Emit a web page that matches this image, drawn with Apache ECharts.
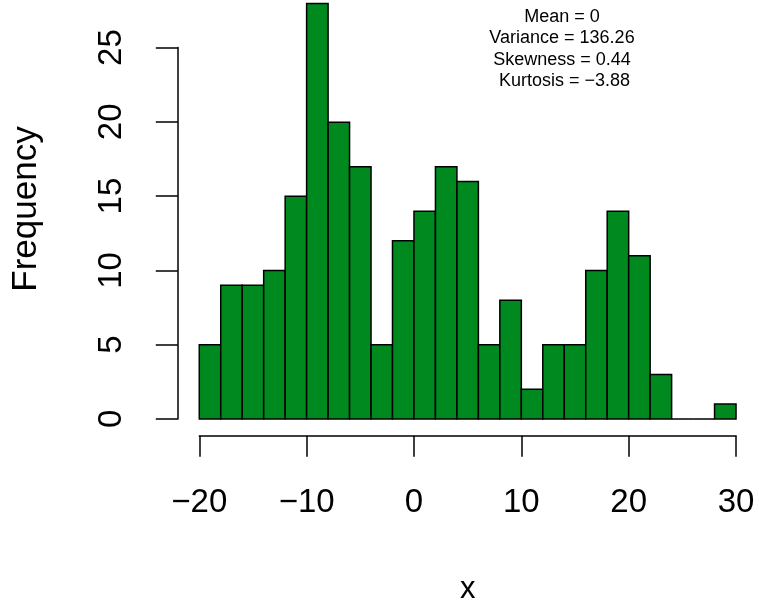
<!DOCTYPE html>
<html>
<head>
<meta charset="utf-8">
<script src="https://cdn.jsdelivr.net/npm/echarts@6/dist/echarts.min.js"></script>
<style>html,body{margin:0;padding:0;background:#fff}#c{width:759px;height:608px}</style>
</head>
<body>
<div id="c"></div>
<script>
// Histogram data (bin width 2)
const binStarts = [-20,-18,-16,-14,-12,-10,-8,-6,-4,-2,0,2,4,6,8,10,12,14,16,18,20,22,24,26,28];
const binEnds   = [-18,-16,-14,-12,-10,-8,-6,-4,-2,0,2,4,6,8,10,12,14,16,18,20,22,24,26,28,30];
const counts    = [5,9,9,10,15,28,20,17,5,12,14,17,16,5,8,2,5,5,10,14,11,3,0,0,1];
const xTicks = [-20,-10,0,10,20,30];
const yTicks = [0,5,10,15,20,25];
const statsLines = ['Mean = 0','Variance = 136.26','Skewness = 0.44',' Kurtosis = \u22123.88'];
const xLabel = 'x';
const yLabel = 'Frequency';

const FONT = "'Liberation Sans', Arial, Helvetica, sans-serif";
const minus = v => String(v).replace('-', '\u2212');

const histData = binStarts.map((s, i) => [s, binEnds[i], counts[i]]);

const chart = echarts.init(document.getElementById('c'), null, {renderer: 'canvas'});
chart.setOption({
  animation: false,
  backgroundColor: '#ffffff',
  grid: [
    {left: 177.8, right: 1.5, top: 3.5, bottom: 172.5, containLabel: false},
    {left: 177.8, width: 100, top: 47.6, bottom: 189.1, containLabel: false},
    {left: 199.3, right: 23, bottom: 172.3, height: 10, containLabel: false}
  ],
  xAxis: [
    {gridIndex: 0, type: 'value', min: -22, max: 32, show: false},
    {gridIndex: 1, type: 'value', min: 0, max: 1, show: false},
    {gridIndex: 2, type: 'value', min: xTicks[0], max: xTicks[xTicks.length-1], interval: 10,
     axisLine: {show: true, onZero: false, lineStyle: {color: '#000', width: 1.5}},
     axisTick: {show: true, length: 21, lineStyle: {color: '#000', width: 1.5}},
     axisLabel: {margin: 51, color: '#000', fontSize: 33, fontFamily: FONT, formatter: minus, showMinLabel: true, showMaxLabel: true},
     splitLine: {show: false},
     name: xLabel, nameLocation: 'middle', nameGap: 138,
     nameTextStyle: {color: '#000', fontSize: 31, fontFamily: FONT}}
  ],
  yAxis: [
    {gridIndex: 0, type: 'value', min: -1.12, max: 28, show: false},
    {gridIndex: 1, type: 'value', min: yTicks[0], max: yTicks[yTicks.length-1], interval: 5,
     axisLine: {show: true, onZero: false, lineStyle: {color: '#000', width: 1.5}},
     axisTick: {show: true, length: 22, lineStyle: {color: '#000', width: 1.5}},
     axisLabel: {margin: 49, rotate: 90, color: '#000', fontSize: 33, fontFamily: FONT, showMinLabel: true, showMaxLabel: true},
     splitLine: {show: false}},
    {gridIndex: 2, type: 'value', show: false}
  ],
  series: [{
    type: 'custom',
    xAxisIndex: 0, yAxisIndex: 0,
    data: histData,
    encode: {x: [0, 1], y: 2},
    renderItem: function (params, api) {
      const p0 = api.coord([api.value(0), api.value(2)]);
      const p1 = api.coord([api.value(1), 0]);
      return {
        type: 'rect',
        shape: {x: p0[0], y: p0[1], width: p1[0] - p0[0], height: p1[1] - p0[1]},
        style: {fill: '#00891f', stroke: '#000', lineWidth: 1.5}
      };
    }
  }],
  graphic: [
    {type: 'text', x: 562, y: 6,
     style: {text: statsLines.join('\n'), textAlign: 'center', textVerticalAlign: 'top',
             font: '18px ' + FONT, lineHeight: 21.5, fill: '#000'}},
    {type: 'text', x: 44, y: 209, rotation: Math.PI / 2,
     style: {text: yLabel, textAlign: 'center', textVerticalAlign: 'bottom',
             font: '35px ' + FONT, fill: '#000'}}
  ]
});
</script>
</body>
</html>
